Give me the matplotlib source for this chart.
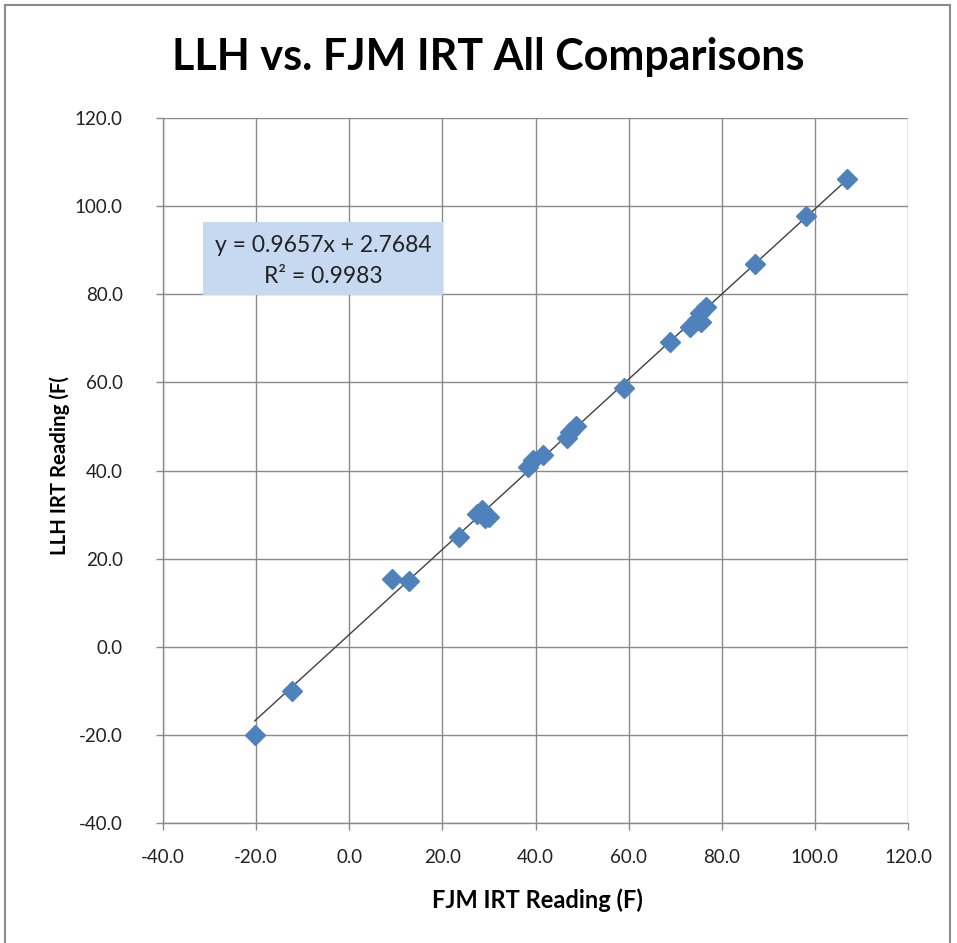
import matplotlib
matplotlib.use("Agg")
import matplotlib.pyplot as plt
from matplotlib.patches import Rectangle
import numpy as np

plt.rcParams['font.family'] = ['Lato', 'DejaVu Sans']

# Data
fjm = [-20.3, -12.4, 9.1, 12.9, 23.6, 27.4, 28.5, 30.0, 29.1,
       38.4, 39.5, 41.6, 46.8, 47.4, 48.7, 59.0,
       68.9, 73.2, 74.7, 75.3, 76.6, 75.5, 87.1, 98.0, 106.8]
llh = [-20.0, -10.0, 15.4, 15.0, 25.0, 30.1, 31.0, 29.5, 29.2,
       40.8, 42.4, 43.5, 47.4, 48.7, 50.1, 58.8,
       69.2, 72.6, 74.2, 75.7, 77.1, 73.7, 86.9, 97.8, 106.2]
slope = 0.9657
intercept = 2.7684
r2 = 0.9983
ticks = [-40, -20, 0, 20, 40, 60, 80, 100, 120]

W, H = 957, 943
fig = plt.figure(figsize=(W / 100, H / 100), dpi=100)
fig.patch.set_facecolor('white')

# outer chart border
fig.patches.append(Rectangle((5 / W, -0.01), (950 - 5) / W, 1 - 5 / H + 0.01,
                             transform=fig.transFigure, fill=False,
                             edgecolor='#8c8c8c', linewidth=1.5))

ax = fig.add_axes([163 / W, (H - 823) / H, 745 / W, 705 / H])
ax.set_xlim(-40, 120)
ax.set_ylim(-40, 120)
ax.set_xticks(ticks)
ax.set_yticks(ticks)
ax.set_xticklabels([f"{t:.1f}" for t in ticks], fontsize=13.5)
ax.set_yticklabels([f"{t:.1f}" for t in ticks], fontsize=13.5)
ax.grid(True, color='#8a8a8a', linewidth=1.0)
ax.set_axisbelow(True)
for s in ['top', 'right']:
    ax.spines[s].set_visible(False)
for s in ['left', 'bottom']:
    ax.spines[s].set_color('#8a8a8a')
    ax.spines[s].set_linewidth(1.0)
ax.tick_params(axis='both', colors='#8a8a8a', labelcolor='#222222',
               length=5, width=1.0, direction='out')
ax.tick_params(axis='y', pad=24)
ax.tick_params(axis='x', pad=14)

# trendline
xs = np.array([min(fjm), max(fjm)])
ax.plot(xs, slope * xs + intercept, color='#404040', linewidth=1.0, zorder=3)

ax.plot(fjm, llh, linestyle='none', marker='D', markersize=10.5,
        color='#4F81BD', markeredgecolor='#4F81BD', zorder=4)

# equation box
bx0, bx1 = (203 - 163) / 745, (443 - 163) / 745
by1, by0 = (823 - 222) / 705, (823 - 295) / 705
ax.add_patch(Rectangle((bx0, by0), bx1 - bx0, by1 - by0, transform=ax.transAxes,
                       facecolor='#C6D9F1', edgecolor='none', zorder=5))
cx = (bx0 + bx1) / 2
ax.text(cx, (823 - 245) / 705, f"y = {slope}x + {intercept}", transform=ax.transAxes,
        ha='center', va='center', fontsize=16.5, color='#222222', zorder=6)
ax.text(cx, (823 - 276) / 705, f"R² = {r2}", transform=ax.transAxes,
        ha='center', va='center', fontsize=16.5, color='#222222', zorder=6)

fig.text(488 / W, 1 - 57 / H, "LLH vs. FJM IRT All Comparisons",
         ha='center', va='center', fontsize=31, fontweight='bold', color='black')
fig.text(537 / W, 1 - 900 / H, "FJM IRT Reading (F)", ha='center', va='center',
         fontsize=17, fontweight='bold', color='black')
fig.text(60 / W, 1 - 466 / H, "LLH IRT Reading (F(", ha='center', va='center',
         rotation=90, fontsize=14.7, fontweight='bold', color='black')

fig.savefig("out.png", dpi=100)
